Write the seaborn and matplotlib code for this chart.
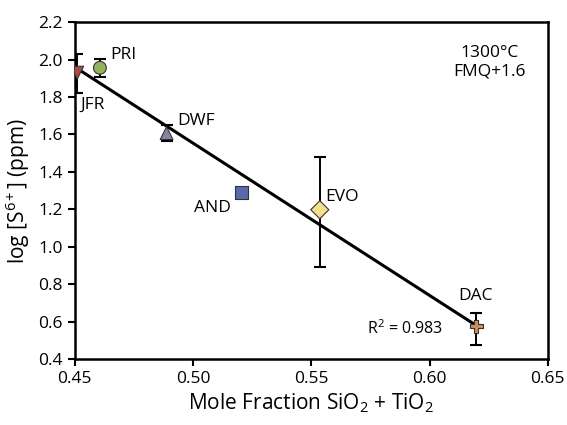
import numpy as np
import pandas as pd
import matplotlib
matplotlib.use("Agg")
import matplotlib.pyplot as plt
import seaborn as sns

samples = ["JFR", "PRI", "DWF", "AND", "EVO", "DAC"]
x_vals = [0.451, 0.4606, 0.4888, 0.5205, 0.5536, 0.6198]
y_vals = [1.93, 1.956, 1.607, 1.288, 1.198, 0.575]
err_hi = [2.03, 2.002, 1.653, 1.288, 1.479, 0.649]
err_lo = [1.82, 1.908, 1.566, 1.288, 0.893, 0.477]
colors = ["#b04a3c", "#8fb45c", "#8783a6", "#5a6aad", "#f3df8c", "#cf8f5a"]
marker_list = ["v", "o", "^", "s", "D", "P"]
r2_text = "R$^2$ = 0.983"

sns.set_theme(style="ticks")
plt.rcParams['font.family'] = ['Open Sans', 'DejaVu Sans']
plt.rcParams['mathtext.fontset'] = 'custom'
plt.rcParams['mathtext.rm'] = 'Open Sans'
plt.rcParams['mathtext.it'] = 'Open Sans:italic'
plt.rcParams['mathtext.bf'] = 'Open Sans:bold'
plt.rcParams['mathtext.default'] = 'regular'
for k in ['text.color', 'axes.labelcolor', 'xtick.color', 'ytick.color']:
    plt.rcParams[k] = 'black'

df = pd.DataFrame({"sample": samples, "x": x_vals, "y": y_vals})

fig = plt.figure(figsize=(5.67, 4.25), dpi=100)
ax = fig.add_axes([0.132, 0.155, 0.834, 0.793])

# regression line
coef = np.polyfit(x_vals, y_vals, 1)
xl = np.array([min(x_vals), max(x_vals)])
ax.plot(xl, np.polyval(coef, xl), color="black", lw=2.2, zorder=2)

# error bars
yerr = np.array([[y - lo for y, lo in zip(y_vals, err_lo)],
                 [hi - y for y, hi in zip(y_vals, err_hi)]])
ax.errorbar(x_vals, y_vals, yerr=yerr, fmt="none", ecolor="black",
            elinewidth=1.4, capsize=4.5, capthick=1.5, zorder=3)

sns.scatterplot(data=df, x="x", y="y", hue="sample", style="sample",
                palette=dict(zip(samples, colors)),
                markers=dict(zip(samples, marker_list)),
                s=85, edgecolor="#333333", linewidth=0.8, legend=False,
                ax=ax, zorder=4)

offsets = {"JFR": (0.0015, -0.17, "left"), "PRI": (0.0045, 0.07, "left"),
           "DWF": (0.0045, 0.066, "left"), "AND": (-0.0045, -0.08, "right"),
           "EVO": (0.0025, 0.07, "left"), "DAC": (-0.0005, 0.16, "center")}
for s, x, y in zip(samples, x_vals, y_vals):
    dx, dy, ha = offsets[s]
    ax.text(x + dx, y + dy, s, ha=ha, va="center", fontsize=12.5)
ax.text(0.6058, 0.565, r2_text, ha="right", va="center", fontsize=11.5)
ax.text(0.6255, 1.985, "1300\u00b0C\nFMQ+1.6", ha="center", va="center",
        fontsize=12.5, linespacing=1.15)

ax.set_xlim(0.45, 0.65)
ax.set_ylim(0.4, 2.2)
ax.set_xticks([0.45, 0.50, 0.55, 0.60, 0.65])
ax.set_xticklabels(["0.45", "0.50", "0.55", "0.60", "0.65"])
ax.set_yticks(np.arange(0.4, 2.21, 0.2))
ax.set_yticklabels([f"{v:.1f}" for v in np.arange(0.4, 2.21, 0.2)])
ax.set_xlabel("Mole Fraction SiO$_2$ + TiO$_2$", fontsize=15, labelpad=3)
ax.set_ylabel("log [S$^{6+}$] (ppm)", fontsize=15, labelpad=5)
ax.tick_params(axis="both", labelsize=12.5, direction="out", length=5,
               width=1.5, color="black")
for sp in ax.spines.values():
    sp.set_visible(True)
    sp.set_linewidth(1.8)
    sp.set_color("black")

fig.savefig("out.png", dpi=100)
